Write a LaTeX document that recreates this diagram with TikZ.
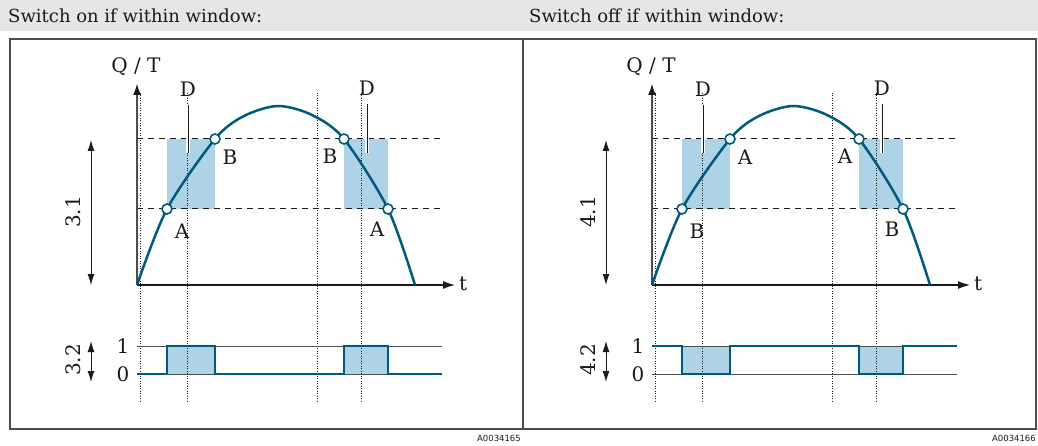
\documentclass[tikz,border=0pt]{standalone}
\usepackage{fontspec}
\setmainfont{DejaVu Serif}
\setsansfont{DejaVu Sans}
\usetikzlibrary{arrows.meta}
\definecolor{ehTeal}{HTML}{005A7D}
\definecolor{ehShade}{HTML}{AED3E6}
\definecolor{ehFrame}{HTML}{4D4D4D}
\definecolor{ehBand}{HTML}{E6E6E6}
\definecolor{ehInk}{HTML}{1A1A1A}

\tikzset{
  lbl/.style={font=\fontsize{20}{22}\selectfont, text=ehInk, inner sep=0pt},
  title/.style={font=\fontsize{18}{20}\selectfont, text=ehInk, inner sep=0pt, anchor=west},
  code/.style={font=\sffamily\fontsize{8.5}{10}\selectfont, text=ehInk, inner sep=0pt, anchor=east},
  guide/.style={ehInk, line width=0.7pt, dash pattern=on 1pt off 1.5pt},
  bound/.style={ehInk, line width=1pt, dash pattern=on 6pt off 5pt},
  curve/.style={ehTeal, line width=2.5pt},
  signal/.style={ehTeal, line width=2.5pt, line join=miter},
  level/.style={ehFrame, line width=0.9pt},
  yaxis/.style={ehFrame, line width=2.2pt, -{Latex[length=12pt,width=8pt,color=ehInk]}},
  xaxis/.style={ehInk, line width=1.2pt, -{Latex[length=12pt,width=8pt]}},
  dim/.style={ehInk, line width=1pt, {Latex[length=11pt,width=7pt]}-{Latex[length=11pt,width=7pt]}},
  pt/.style={circle, draw=ehTeal, fill=white, line width=1.6pt, minimum size=10pt, inner sep=0pt}
}

\begin{document}
\begin{tikzpicture}[x=1pt,y=-1pt]
  \useasboundingbox (0,0) rectangle (1038,446);
  \fill[ehBand] (0,0) rectangle (1038,31);
  \node[title] (ttlon) at (8,16) {Switch on if within window:};
  \node[title] (ttloff) at (529,16) {Switch off if within window:};
  \draw[ehFrame, line width=2pt] (10,39) rectangle (1036,429);
  \draw[ehFrame, line width=2.5pt] (523,39) -- (523,429);
  \node[code] (codeon) at (521,438) {A0034165};
  \node[code] (codeoff) at (1036,438) {A0034166};

  % left panel: switch on, right panel: switch off
  \foreach \dx/\nm/\ptlo/\pthi/\lvout/\lvin in {0/3/A/B/374/346, 515/4/B/A/346/374} {
    \begin{scope}[xshift=\dx]
      % windows
      \fill[ehShade] (167,139) rectangle (215,209);
      \fill[ehShade] (344,139) rectangle (388,209);
      \fill[ehShade] (167,346) rectangle (215,374);
      \fill[ehShade] (344,346) rectangle (388,374);
      \foreach \gx in {140,187,317,361}
        \draw[guide] (\gx,93) -- (\gx,402);
      \draw[bound] (137,139) -- (442,139);
      \draw[bound] (137,209) -- (442,209);

      % axes
      \coordinate (o\nm) at (137,285);
      \coordinate (ytip\nm) at (137,83);
      \coordinate (xtip\nm) at (455,285);
      \draw[yaxis] (o\nm) -- (ytip\nm);
      \draw[xaxis] (o\nm) -- (xtip\nm);
      \node[lbl] (qt\nm) at (136,67) {Q / T};
      \node[lbl, anchor=west] (t\nm) at (459,284) {t};

      % level curve
      \draw[curve] plot[smooth] coordinates {(137,285) (167,209) (215,139) (244,116) (278,106) (312,115) (344,139) (388,209) (415,285)};
      \node[pt] (lo\nm a) at (167,209) {};
      \node[pt] (hi\nm a) at (215,139) {};
      \node[pt] (hi\nm b) at (344,139) {};
      \node[pt] (lo\nm b) at (388,209) {};
      \node[lbl] at (182,231) {\ptlo};
      \node[lbl] at (230,157) {\pthi};
      \node[lbl] at (330,156) {\pthi};
      \node[lbl] at (377,229) {\ptlo};

      % delay marks
      \node[lbl] (da\nm) at (188,89) {D};
      \node[lbl] (db\nm) at (367,88) {D};
      \coordinate (dat\nm) at (188,105);
      \coordinate (dab\nm) at (188,153);
      \coordinate (dbt\nm) at (367,104);
      \coordinate (dbb\nm) at (367,153);
      \draw[white, line width=3.5pt] (dat\nm) -- (dab\nm);
      \draw[white, line width=3.5pt] (dbt\nm) -- (dbb\nm);
      \draw[ehInk, line width=1pt] (dat\nm) -- (dab\nm);
      \draw[ehInk, line width=1pt] (dbt\nm) -- (dbb\nm);

      % window height
      \coordinate (wt\nm) at (91,140);
      \coordinate (wb\nm) at (91,285);
      \draw[dim] (wt\nm) -- (wb\nm);
      \node[lbl, rotate=90] (w\nm) at (73,212) {\nm.1};

      % switching output
      \draw[level] (137,346) -- (442,346);
      \draw[level] (137,374) -- (442,374);
      \draw[signal] (137,\lvout) -- (167,\lvout) -- (167,\lvin) -- (215,\lvin) -- (215,\lvout)
        -- (344,\lvout) -- (344,\lvin) -- (388,\lvin) -- (388,\lvout) -- (442,\lvout);
      \node[lbl] (one\nm) at (123,346) {1};
      \node[lbl] (zero\nm) at (123,374) {0};
      \coordinate (st\nm) at (91,341);
      \coordinate (sb\nm) at (91,382);
      \draw[dim] (st\nm) -- (sb\nm);
      \node[lbl, rotate=90] (s\nm) at (73,360) {\nm.2};
    \end{scope}
  }
\end{tikzpicture}
\end{document}
